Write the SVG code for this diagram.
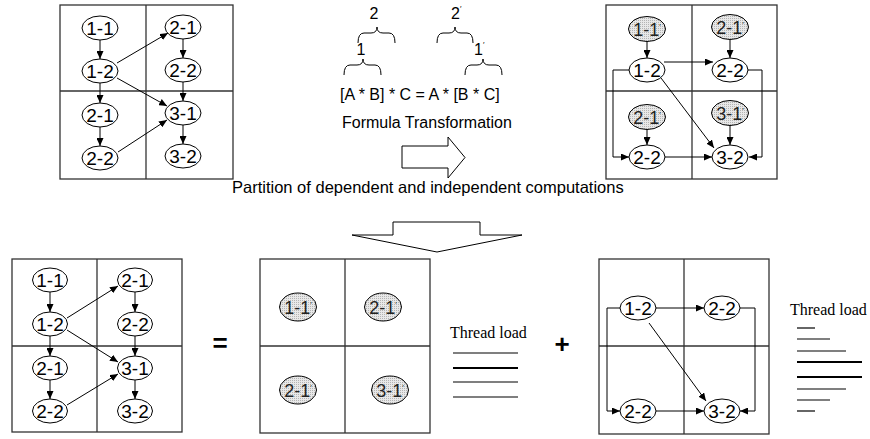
<svg xmlns="http://www.w3.org/2000/svg" width="870" height="439" viewBox="0 0 870 439">
<style>
.box{fill:none;stroke:#333;stroke-width:1.3}
.n{fill:#fff;stroke:#000;stroke-width:1}
.g{fill:url(#mesh);stroke:#000;stroke-width:1}
.t{font-family:"Liberation Sans",Arial,sans-serif;font-size:19px;text-anchor:middle;fill:#000}
.tg{font-family:"Liberation Sans",Arial,sans-serif;font-size:18px;text-anchor:middle;fill:#222}
.pr{font-size:8px}
.c{fill:none;stroke:#000;stroke-width:1}
.ca{fill:none;stroke:#000;stroke-width:1;marker-end:url(#ah)}
.lab{font-family:"Liberation Sans",Arial,sans-serif;font-size:16px;fill:#000}
.ser{font-family:"Liberation Serif","Times New Roman",serif;font-size:16px;fill:#000}
.tl{stroke:#000;stroke-width:1.2}
.tlb{stroke:#000;stroke-width:2}
.big{fill:#fff;stroke:#000;stroke-width:1}
</style>
<defs>
<marker id="ah" markerUnits="userSpaceOnUse" markerWidth="8" markerHeight="7" refX="8" refY="3.5" orient="auto">
<path d="M0,0 L8,3.5 L0,7 z" fill="#000"/>
</marker>
<pattern id="mesh" width="2" height="2" patternUnits="userSpaceOnUse">
<rect width="2" height="2" fill="#e8e8e8"/>
<rect width="1" height="1" fill="#b4b4b4"/>
</pattern>
</defs>
<rect width="870" height="439" fill="#fff"/>

<!-- Top-left box -->
<g id="box-tl">
<rect class="box" x="60" y="5" width="173" height="174"/>
<line class="box" x1="146" y1="5" x2="146" y2="179"/>
<line class="box" x1="60" y1="91" x2="233" y2="91"/>
</g>
<g id="tl-11"><ellipse class="n" cx="100" cy="28" rx="18" ry="12"/><text class="t" x="100" y="35">1-1</text></g>
<g id="tl-12"><ellipse class="n" cx="100" cy="71" rx="18" ry="12"/><text class="t" x="100" y="78">1-2</text></g>
<g id="tl-21a"><ellipse class="n" cx="100" cy="115" rx="18" ry="12"/><text class="t" x="100" y="122">2-1</text></g>
<g id="tl-22a"><ellipse class="n" cx="100" cy="158" rx="18" ry="12"/><text class="t" x="100" y="165">2-2</text></g>
<g id="tl-21b"><ellipse class="n" cx="183" cy="27" rx="18" ry="12"/><text class="t" x="183" y="34">2-1</text></g>
<g id="tl-22b"><ellipse class="n" cx="183" cy="70" rx="18" ry="12"/><text class="t" x="183" y="77">2-2</text></g>
<g id="tl-31"><ellipse class="n" cx="183" cy="113" rx="18" ry="12"/><text class="t" x="183" y="120">3-1</text></g>
<g id="tl-32"><ellipse class="n" cx="183" cy="156" rx="18" ry="12"/><text class="t" x="183" y="163">3-2</text></g>

<!-- Formula -->
<g id="formula">
<path class="c" d="M358,43 Q358,33 364,33 L371,33 Q377,33 377,27 Q377,33 383,33 L389,33 Q395,33 395,43"/>
<path class="c" d="M344,75 Q344,65 350,65 L357,65 Q363,65 363,59 Q363,65 369,65 L375,65 Q381,65 381,75"/>
<path class="c" d="M437,43 Q437,33 443,33 L449,33 Q455,33 455,27 Q455,33 461,33 L467,33 Q473,33 473,43"/>
<path class="c" d="M465,75 Q465,65 471,65 L477,65 Q483,65 483,59 Q483,65 489,65 L496,65 Q502,65 502,75"/>
<text class="lab" x="374" y="19" text-anchor="middle">2</text>
<text class="lab" x="361" y="55" text-anchor="middle">1</text>
<text class="lab" x="451" y="19">2<tspan class="pr" dy="-8">′</tspan></text>
<text class="lab" x="474" y="55">1<tspan class="pr" dy="-8">′</tspan></text>
<text class="lab" x="340" y="100">[A * B] * C = A * [B * C]</text>
<text class="lab" x="342" y="128">Formula Transformation</text>
<polygon class="big" points="402,146 448,146 448,137 465,157.5 448,178 448,168 402,168"/>
</g>

<!-- Top-right box -->
<g id="box-tr">
<rect class="box" x="606" y="5" width="171" height="174"/>
<line class="box" x1="692" y1="5" x2="692" y2="179"/>
<line class="box" x1="606" y1="91" x2="777" y2="91"/>
</g>
<g id="tr-11p"><ellipse class="g" cx="647" cy="29" rx="18.5" ry="12.5"/><text class="tg" x="647" y="35.5">1-1<tspan class="pr" dy="-7">′</tspan></text></g>
<g id="tr-12"><ellipse class="n" cx="647" cy="70" rx="18" ry="12"/><text class="t" x="647" y="77">1-2</text></g>
<g id="tr-21p-a"><ellipse class="g" cx="647" cy="117" rx="18.5" ry="12.5"/><text class="tg" x="647" y="123.5">2-1<tspan class="pr" dy="-7">′</tspan></text></g>
<g id="tr-22a"><ellipse class="n" cx="647" cy="157" rx="18" ry="12"/><text class="t" x="647" y="164">2-2</text></g>
<g id="tr-21p-b"><ellipse class="g" cx="730" cy="27" rx="18.5" ry="12.5"/><text class="tg" x="730" y="33.5">2-1<tspan class="pr" dy="-7">′</tspan></text></g>
<g id="tr-22b"><ellipse class="n" cx="730" cy="70" rx="18" ry="12"/><text class="t" x="730" y="77">2-2</text></g>
<g id="tr-31p"><ellipse class="g" cx="730" cy="113" rx="18.5" ry="12.5"/><text class="tg" x="730" y="119.5">3-1<tspan class="pr" dy="-7">′</tspan></text></g>
<g id="tr-32"><ellipse class="n" cx="730" cy="157" rx="18" ry="12"/><text class="t" x="730" y="164">3-2</text></g>

<text class="lab" x="232" y="193" style="font-size:16.5px">Partition of dependent and independent computations</text>
<polygon class="big" id="down-arrow" points="393,222 480,222 480,235 522,235 437,252 352,235 393,235"/>

<!-- Bottom-left box -->
<g id="box-bl">
<rect class="box" x="12" y="259" width="170" height="173"/>
<line class="box" x1="97" y1="259" x2="97" y2="432"/>
<line class="box" x1="12" y1="346" x2="182" y2="346"/>
</g>
<g id="bl-11"><ellipse class="n" cx="50" cy="280" rx="17.5" ry="12"/><text class="t" x="50" y="287">1-1</text></g>
<g id="bl-12"><ellipse class="n" cx="50" cy="324" rx="17.5" ry="12"/><text class="t" x="50" y="331">1-2</text></g>
<g id="bl-21a"><ellipse class="n" cx="50" cy="368" rx="17.5" ry="12"/><text class="t" x="50" y="375">2-1</text></g>
<g id="bl-22a"><ellipse class="n" cx="50" cy="411" rx="17.5" ry="12"/><text class="t" x="50" y="418">2-2</text></g>
<g id="bl-21b"><ellipse class="n" cx="135" cy="280" rx="17.5" ry="12"/><text class="t" x="135" y="287">2-1</text></g>
<g id="bl-22b"><ellipse class="n" cx="135" cy="324" rx="17.5" ry="12"/><text class="t" x="135" y="331">2-2</text></g>
<g id="bl-31"><ellipse class="n" cx="135" cy="368" rx="17.5" ry="12"/><text class="t" x="135" y="375">3-1</text></g>
<g id="bl-32"><ellipse class="n" cx="135" cy="411" rx="17.5" ry="12"/><text class="t" x="135" y="418">3-2</text></g>

<text x="220" y="352" text-anchor="middle" style="font-family:'Liberation Sans',Arial,sans-serif;font-size:26px;font-weight:bold">=</text>

<!-- Bottom-middle box -->
<g id="box-bm">
<rect class="box" x="260" y="259" width="170" height="174"/>
<line class="box" x1="345" y1="259" x2="345" y2="433"/>
<line class="box" x1="260" y1="346" x2="430" y2="346"/>
</g>
<g id="bm-11p"><ellipse class="g" cx="298" cy="307" rx="18.5" ry="14"/><text class="tg" x="298" y="313.5">1-1<tspan class="pr" dy="-7">′</tspan></text></g>
<g id="bm-21p-a"><ellipse class="g" cx="383" cy="307" rx="18.5" ry="14"/><text class="tg" x="383" y="313.5">2-1<tspan class="pr" dy="-7">′</tspan></text></g>
<g id="bm-21p-b"><ellipse class="g" cx="298" cy="390" rx="18.5" ry="14"/><text class="tg" x="298" y="396.5">2-1<tspan class="pr" dy="-7">′</tspan></text></g>
<g id="bm-31p"><ellipse class="g" cx="390" cy="390" rx="18.5" ry="14"/><text class="tg" x="390" y="396.5">3-1<tspan class="pr" dy="-7">′</tspan></text></g>

<g id="load-mid">
<text class="ser" x="450" y="338">Thread load</text>
<line class="tl" x1="453" y1="353" x2="518" y2="353"/>
<line class="tlb" x1="453" y1="368" x2="518" y2="368"/>
<line class="tl" x1="453" y1="382" x2="518" y2="382"/>
<line class="tl" x1="453" y1="397" x2="518" y2="397"/>
</g>

<text x="562" y="353" text-anchor="middle" style="font-family:'Liberation Sans',Arial,sans-serif;font-size:26px;font-weight:bold">+</text>

<!-- Bottom-right box -->
<g id="box-br">
<rect class="box" x="599" y="259" width="170" height="175"/>
<line class="box" x1="684" y1="259" x2="684" y2="434"/>
<line class="box" x1="599" y1="346" x2="769" y2="346"/>
</g>
<g id="br-12"><ellipse class="n" cx="638" cy="308" rx="18" ry="12"/><text class="t" x="638" y="315">1-2</text></g>
<g id="br-22a"><ellipse class="n" cx="722" cy="308" rx="18" ry="12"/><text class="t" x="722" y="315">2-2</text></g>
<g id="br-22b"><ellipse class="n" cx="638" cy="411" rx="18" ry="12"/><text class="t" x="638" y="418">2-2</text></g>
<g id="br-32"><ellipse class="n" cx="722" cy="411" rx="18" ry="12"/><text class="t" x="722" y="418">3-2</text></g>

<g id="load-right">
<text class="ser" x="790" y="315">Thread load</text>
<line class="tl" x1="797" y1="328" x2="815" y2="328"/>
<line class="tl" x1="797" y1="339" x2="830" y2="339"/>
<line class="tl" x1="797" y1="351" x2="846" y2="351"/>
<line class="tlb" x1="797" y1="362" x2="862" y2="362"/>
<line class="tlb" x1="797" y1="377" x2="862" y2="377"/>
<line class="tl" x1="797" y1="389" x2="846" y2="389"/>
<line class="tl" x1="797" y1="400" x2="830" y2="400"/>
<line class="tl" x1="797" y1="411" x2="815" y2="411"/>
</g>

<!-- Connectors -->
<g id="connectors">
<line class="ca" x1="100" y1="40" x2="100" y2="59"/>
<line class="ca" x1="100" y1="83" x2="100" y2="103"/>
<line class="ca" x1="100" y1="127" x2="100" y2="146"/>
<line class="ca" x1="183" y1="39" x2="183" y2="58"/>
<line class="ca" x1="183" y1="82" x2="183" y2="101"/>
<line class="ca" x1="183" y1="125" x2="183" y2="144"/>
<line class="ca" x1="117" y1="63" x2="168" y2="33"/>
<line class="ca" x1="117" y1="78" x2="167" y2="106"/>
<line class="ca" x1="118" y1="152" x2="167" y2="120"/>
<line class="ca" x1="647" y1="41.5" x2="647" y2="58"/>
<line class="ca" x1="730" y1="39.5" x2="730" y2="58"/>
<line class="ca" x1="647" y1="129.5" x2="647" y2="145"/>
<line class="ca" x1="730" y1="125.5" x2="730" y2="145"/>
<line class="ca" x1="664" y1="62" x2="713" y2="62"/>
<polyline class="ca" points="629,70 613,70 613,157 629,157"/>
<line class="ca" x1="661" y1="78" x2="714" y2="148"/>
<line class="ca" x1="665" y1="157" x2="712" y2="157"/>
<polyline class="ca" points="748,70 762,70 762,157 749,157"/>
<line class="ca" x1="50" y1="292" x2="50" y2="312"/>
<line class="ca" x1="50" y1="336" x2="50" y2="356"/>
<line class="ca" x1="50" y1="380" x2="50" y2="399"/>
<line class="ca" x1="135" y1="292" x2="135" y2="312"/>
<line class="ca" x1="135" y1="336" x2="135" y2="356"/>
<line class="ca" x1="135" y1="380" x2="135" y2="399"/>
<line class="ca" x1="67" y1="318" x2="118" y2="286"/>
<line class="ca" x1="67" y1="330" x2="118" y2="362"/>
<line class="ca" x1="67" y1="405" x2="118" y2="374"/>
<line class="ca" x1="656" y1="308" x2="704" y2="308"/>
<polyline class="ca" points="620,308 607,308 607,411 620,411"/>
<line class="ca" x1="649" y1="323" x2="706" y2="401"/>
<line class="ca" x1="656" y1="411" x2="704" y2="411"/>
<polyline class="ca" points="740,308 755,308 755,411 740,411"/>
</g>
</svg>
